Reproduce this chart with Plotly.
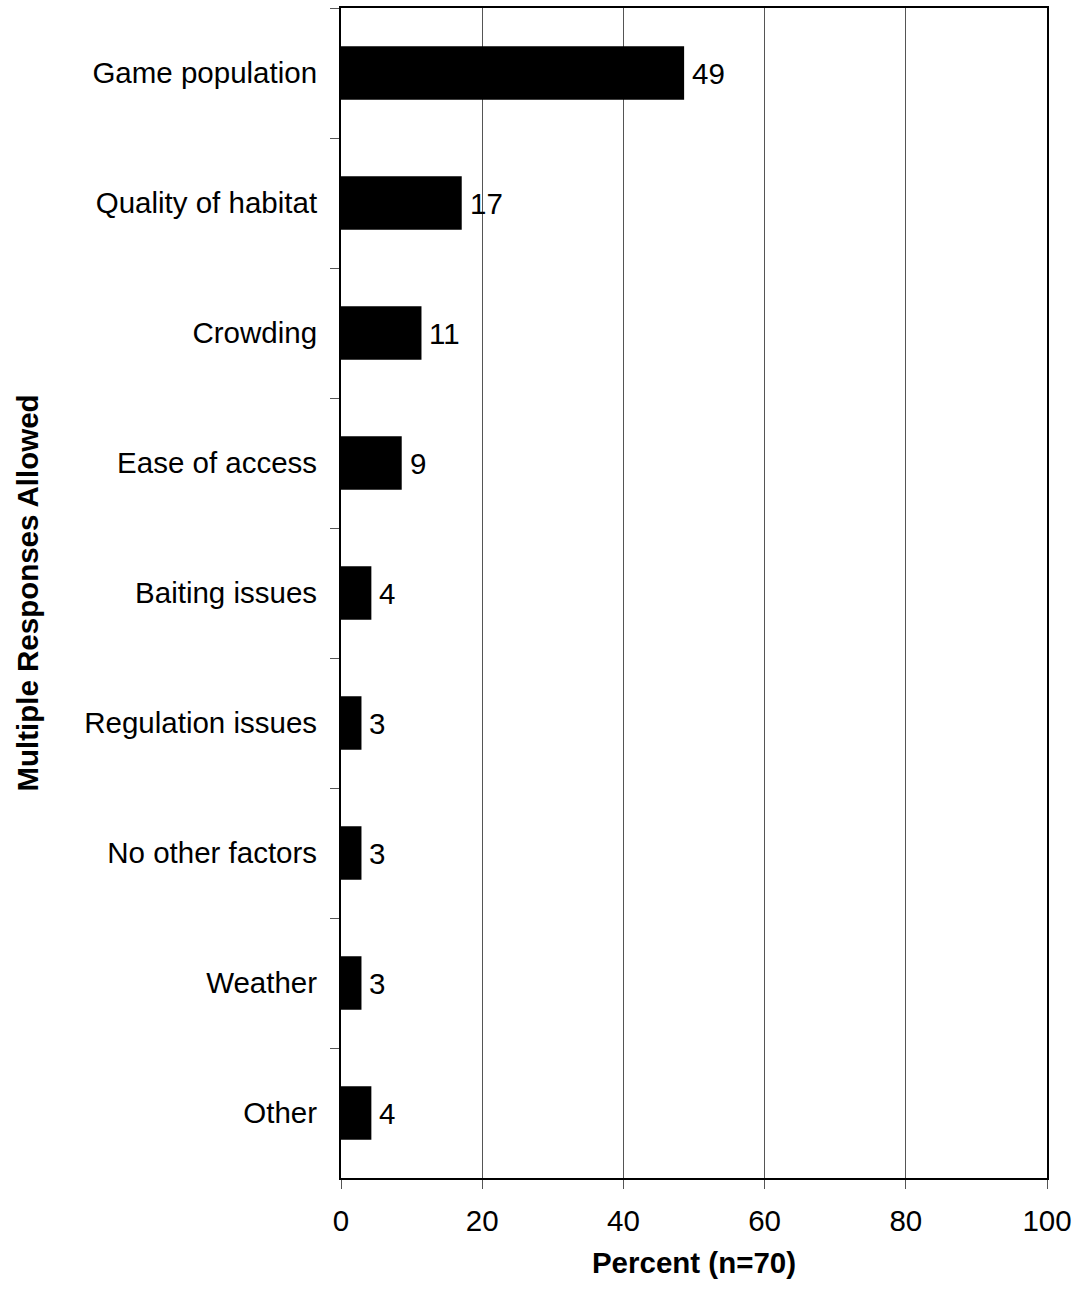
import plotly.graph_objects as go

categories = ["Game population", "Quality of habitat", "Crowding", "Ease of access",
              "Baiting issues", "Regulation issues", "No other factors", "Weather", "Other"]
values = [48.6, 17.1, 11.4, 8.6, 4.3, 2.9, 2.9, 2.9, 4.3]
labels = ["49", "17", "11", "9", "4", "3", "3", "3", "4"]
x_ticks = [0, 20, 40, 60, 80, 100]

font_family = "Liberation Sans, Arial, sans-serif"
FS = 29.5

fig = go.Figure(go.Bar(
    y=categories, x=values, orientation="h",
    marker=dict(color="black", line=dict(width=0)),
    width=0.41,
))

annotations = [
    dict(x=v, y=c, xref="x", yref="y", text=t, showarrow=False,
         xanchor="left", yanchor="middle", xshift=6,
         font=dict(family=font_family, size=FS, color="black"))
    for c, v, t in zip(categories, values, labels)
]

fig.update_layout(
    width=1076, height=1290,
    margin=dict(l=341, r=29, t=8, b=112, autoexpand=False),
    plot_bgcolor="white", paper_bgcolor="white",
    showlegend=False,
    font=dict(family=font_family, size=FS, color="black"),
    annotations=annotations,
    xaxis=dict(
        range=[0, 100], tickvals=x_ticks, ticks="outside", ticklen=9, tickcolor="#555",
        showgrid=True, gridcolor="#555", gridwidth=1,
        showline=True, linecolor="black", linewidth=2, mirror=True,
        zeroline=False, automargin=False,
        tickfont=dict(size=FS), ticklabelstandoff=7,
        title=dict(text="<b>Percent (n=70)</b>", font=dict(size=FS), standoff=16),
    ),
    yaxis=dict(
        categoryorder="array", categoryarray=categories, autorange="reversed",
        ticks="outside", ticklen=9, tickcolor="#555", tickson="boundaries",
        showline=True, linecolor="black", linewidth=2, mirror=True,
        showgrid=False,
        tickfont=dict(size=FS), ticklabelstandoff=16,
        title=dict(text="<b>Multiple Responses Allowed</b>", font=dict(size=FS), standoff=37),
    ),
)

fig.write_html(
    "out.html",
    config={"displayModeBar": False},
    post_script="document.body.style.margin='0';document.body.style.overflow='hidden';",
)
